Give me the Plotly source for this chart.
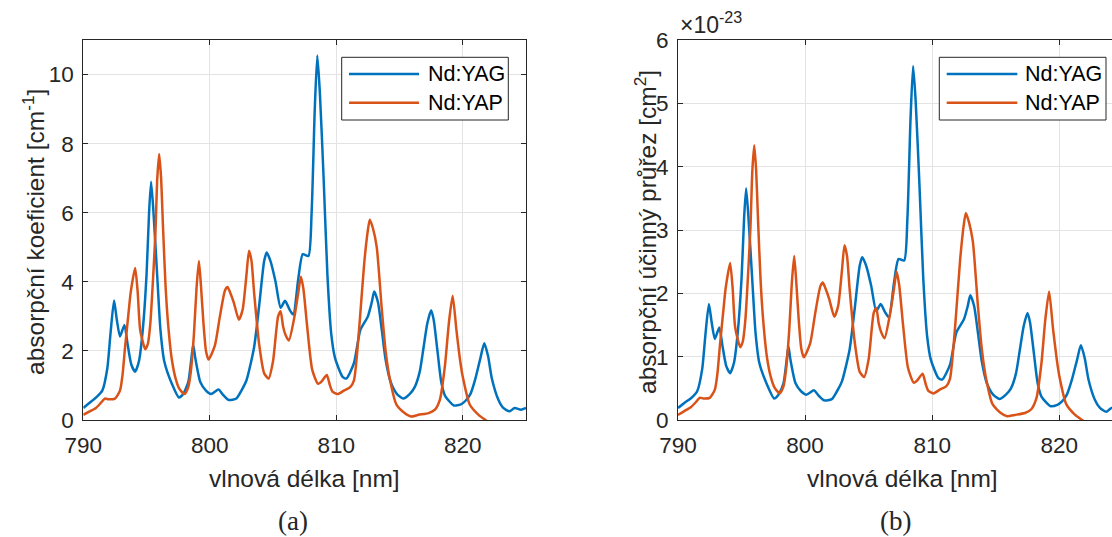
import plotly.graph_objects as go

# ---------------- data ----------------
wl_yag = [790.0, 790.5, 791.0, 791.5, 791.9, 792.15, 792.43, 792.65, 792.9, 793.25,
          793.5, 793.8, 794.1, 794.4, 794.7, 795.0, 795.2, 795.36, 795.55, 795.87,
          796.1, 796.4, 797.0, 797.56, 797.9, 798.3, 798.55, 798.69, 798.85, 799.25,
          799.7, 800.1, 800.7, 801.0, 801.5, 802.1, 802.5, 802.9, 803.5, 803.9,
          804.3, 804.5, 804.8, 805.2, 805.6, 805.95, 806.3, 806.6, 807.0, 807.35,
          807.8, 808.05, 808.3, 808.5, 808.7, 809.0, 809.3, 809.6, 809.9, 810.5,
          810.8, 811.4, 811.9, 812.5, 812.8, 813.0, 813.3, 813.6, 813.9, 814.3,
          814.8, 815.3, 815.8, 816.2, 816.6, 816.9, 817.2, 817.5, 817.7, 818.0,
          818.3, 818.6, 819.3, 819.85, 820.2, 820.6, 821.0, 821.4, 821.7, 822.0,
          822.3, 822.8, 823.2, 823.7, 824.1, 824.6, 825.0]
alpha_yag = [0.35, 0.5, 0.65, 0.85, 1.5, 2.5, 3.46, 2.9, 2.42, 2.75,
             2.2, 1.6, 1.4, 1.7, 2.6, 4.2, 6.0, 6.9, 6.0, 4.0,
             2.6, 1.7, 1.05, 0.65, 0.75, 1.1, 1.8, 2.18, 1.8, 1.1,
             0.85, 0.75, 0.88, 0.75, 0.58, 0.62, 0.85, 1.15, 2.1, 3.3,
             4.6, 4.85, 4.6, 4.0, 3.25, 3.45, 3.2, 3.05, 4.1, 4.8,
             4.75, 6.0, 9.0, 10.55, 9.5, 7.0, 4.2, 2.5, 1.8, 1.25,
             1.2, 1.65, 2.6, 3.0, 3.4, 3.72, 3.4, 2.6, 1.75, 1.1,
             0.75, 0.62, 0.75, 0.95, 1.4, 2.1, 2.8, 3.18, 2.9, 2.0,
             1.1, 0.7, 0.42, 0.45, 0.55, 0.75, 1.2, 1.8, 2.22, 1.85,
             1.2, 0.6, 0.35, 0.25, 0.35, 0.3, 0.35]
sigma_yag = [0.19, 0.27, 0.34, 0.45, 0.80, 1.33, 1.83, 1.54, 1.28, 1.46,
             1.17, 0.85, 0.74, 0.90, 1.38, 2.23, 3.18, 3.66, 3.18, 2.12,
             1.38, 0.90, 0.56, 0.34, 0.40, 0.58, 0.95, 1.16, 0.95, 0.58,
             0.45, 0.40, 0.47, 0.40, 0.31, 0.33, 0.45, 0.61, 1.11, 1.75,
             2.44, 2.57, 2.44, 2.12, 1.72, 1.83, 1.70, 1.62, 2.17, 2.54,
             2.52, 3.18, 4.77, 5.59, 5.04, 3.71, 2.23, 1.33, 0.95, 0.66,
             0.64, 0.87, 1.38, 1.59, 1.80, 1.97, 1.80, 1.38, 0.93, 0.58,
             0.40, 0.33, 0.40, 0.50, 0.74, 1.11, 1.48, 1.69, 1.54, 1.06,
             0.58, 0.37, 0.22, 0.24, 0.29, 0.40, 0.64, 0.95, 1.18, 0.98,
             0.64, 0.32, 0.19, 0.13, 0.19, 0.16, 0.19]

wl_yap = [790.0, 790.5, 791.0, 791.4, 791.7, 792.0, 792.5, 792.9, 793.1, 793.3,
          793.55, 793.75, 794.1, 794.3, 794.5, 794.9, 795.1, 795.3, 795.5, 795.7,
          795.85, 796.0, 796.15, 796.3, 796.5, 796.7, 797.0, 797.3, 797.6, 798.0,
          798.3, 798.5, 798.75, 798.95, 799.14, 799.3, 799.5, 799.7, 799.9, 800.4,
          800.8, 801.2, 801.4, 801.6, 801.9, 802.3, 802.6, 802.9, 803.1, 803.3,
          803.5, 803.9, 804.3, 804.65, 805.0, 805.4, 805.6, 805.8, 806.0, 806.25,
          806.7, 807.0, 807.2, 807.4, 807.7, 808.1, 808.55, 808.8, 809.25, 809.5,
          809.7, 810.1, 810.6, 811.1, 811.4, 811.8, 812.2, 812.5, 812.65, 812.9,
          813.2, 813.6, 813.9, 814.2, 814.75, 815.4, 815.9, 816.5, 817.3, 817.8,
          818.2, 818.6, 818.9, 819.2, 819.5, 819.8, 820.0, 820.55, 821.25, 821.8,
          822.0]
alpha_yap = [0.15, 0.25, 0.35, 0.5, 0.62, 0.6, 0.62, 0.85, 1.3, 2.1,
             3.0, 3.7, 4.4, 3.7, 2.6, 2.05, 2.2, 2.8, 4.0, 5.4,
             7.0, 7.7, 7.0, 5.6, 3.9, 2.8, 1.75, 1.2, 0.9, 0.75,
             0.95, 1.4, 2.5, 3.8, 4.6, 3.9, 2.8, 2.0, 1.75, 2.15,
             3.0, 3.75, 3.85, 3.7, 3.4, 2.9, 3.2, 4.2, 4.9, 4.6,
             3.7, 2.2, 1.35, 1.2, 1.7, 3.0, 3.15, 2.7, 2.45, 2.3,
             3.0, 3.7, 4.15, 3.8, 2.7, 1.45, 1.05, 1.1, 1.3, 1.0,
             0.82, 0.75, 0.85, 0.95, 1.15, 2.6, 4.5, 5.5, 5.8, 5.55,
             5.0, 3.2, 2.0, 1.25, 0.45, 0.2, 0.1, 0.15, 0.2, 0.3,
             0.6, 1.6, 2.8, 3.6, 2.6, 1.7, 1.25, 0.45, 0.15, 0.0,
             -0.05]
sigma_yap = [0.08, 0.14, 0.20, 0.28, 0.35, 0.34, 0.35, 0.48, 0.73, 1.18,
             1.69, 2.08, 2.48, 2.08, 1.46, 1.15, 1.24, 1.58, 2.25, 3.04,
             3.94, 4.34, 3.94, 3.15, 2.20, 1.58, 0.99, 0.68, 0.51, 0.42,
             0.53, 0.79, 1.41, 2.14, 2.59, 2.20, 1.58, 1.13, 0.99, 1.21,
             1.69, 2.11, 2.17, 2.08, 1.91, 1.63, 1.80, 2.36, 2.76, 2.59,
             2.08, 1.24, 0.76, 0.68, 0.96, 1.69, 1.77, 1.52, 1.38, 1.29,
             1.69, 2.08, 2.34, 2.14, 1.52, 0.82, 0.59, 0.62, 0.73, 0.56,
             0.46, 0.42, 0.48, 0.53, 0.65, 1.46, 2.53, 3.10, 3.27, 3.12,
             2.82, 1.80, 1.13, 0.70, 0.25, 0.11, 0.06, 0.08, 0.11, 0.17,
             0.34, 0.90, 1.58, 2.03, 1.46, 0.96, 0.70, 0.25, 0.08, 0.0,
             -0.03]

x_ticks = [790, 800, 810, 820]
y_ticks_a = [0, 2, 4, 6, 8, 10]
y_ticks_b = [0, 1, 2, 3, 4, 5, 6]
series_names = ["Nd:YAG", "Nd:YAP"]
colors = ["#0072BD", "#D95319"]

# ---------------- layout helpers ----------------
W, H = 1112, 537
def px(x):
    return x / W
def py(y):
    return 1 - y / H

FONT = "Liberation Sans"
AX = "#262626"
GRID = "#e3e3e3"
LINE = dict(width=2.5, shape="spline", smoothing=0.6)

fig = go.Figure()
fig.add_trace(go.Scatter(x=wl_yag, y=alpha_yag, mode="lines", line=dict(color=colors[0], **LINE),
                         name=series_names[0], xaxis="x", yaxis="y", showlegend=False))
fig.add_trace(go.Scatter(x=wl_yap, y=alpha_yap, mode="lines", line=dict(color=colors[1], **LINE),
                         name=series_names[1], xaxis="x", yaxis="y", showlegend=False))
fig.add_trace(go.Scatter(x=wl_yag, y=sigma_yag, mode="lines", line=dict(color=colors[0], **LINE),
                         name=series_names[0], xaxis="x2", yaxis="y2", showlegend=False))
fig.add_trace(go.Scatter(x=wl_yap, y=sigma_yap, mode="lines", line=dict(color=colors[1], **LINE),
                         name=series_names[1], xaxis="x2", yaxis="y2", showlegend=False))

common = dict(showline=True, linecolor=AX, linewidth=1, ticks="inside", ticklen=5, tickcolor=AX,
              showgrid=True, gridcolor=GRID, gridwidth=1, zeroline=False, automargin=False,
              tickfont=dict(family=FONT, size=22.5, color=AX))

fig.update_layout(
    width=W, height=H, margin=dict(l=0, r=0, t=0, b=0, autoexpand=False),
    paper_bgcolor="white", plot_bgcolor="white",
    xaxis=dict(domain=[px(83.3), px(526)], range=[790, 825], tickvals=x_ticks, mirror="ticks",
               anchor="y", ticklabelstandoff=5, **common),
    yaxis=dict(domain=[py(420), py(40)], range=[0, 11], tickvals=y_ticks_a, mirror="ticks",
               anchor="x", ticklabelstandoff=4, **common),
    xaxis2=dict(domain=[px(678), 1.0], range=[790, 824.15], tickvals=x_ticks, mirror="ticks",
                anchor="y2", ticklabelstandoff=5, **common),
    yaxis2=dict(domain=[py(420), py(40)], range=[0, 6], tickvals=y_ticks_b, mirror=False,
                anchor="x2", ticklabelstandoff=4, **common),
)

ann = []
tf = dict(family=FONT, size=24.5, color=AX)
ann.append(dict(text="vlnová délka [nm]", x=px(304.5), y=py(478), xref="paper", yref="paper",
                xanchor="center", yanchor="middle", showarrow=False, font=tf))
ann.append(dict(text="vlnová délka [nm]", x=px(902), y=py(478), xref="paper", yref="paper",
                xanchor="center", yanchor="middle", showarrow=False, font=tf))
ann.append(dict(text="absorpční koeficient [cm<sup>-1</sup>]", x=px(33), y=py(232), xref="paper",
                yref="paper", xanchor="center", yanchor="middle", textangle=-90, showarrow=False, font=tf))
ann.append(dict(text="absorpční účinný průřez [cm<sup>2</sup>]", x=px(645), y=py(232), xref="paper",
                yref="paper", xanchor="center", yanchor="middle", textangle=-90, showarrow=False, font=tf))
ann.append(dict(text="×10<sup>-23</sup>", x=px(678), y=py(40), xref="paper", yref="paper",
                xanchor="left", yanchor="bottom", showarrow=False, font=dict(family=FONT, size=23, color=AX)))
sf = dict(family="Liberation Serif", size=27, color=AX)
ann.append(dict(text="(a)", x=px(293), y=py(521), xref="paper", yref="paper",
                xanchor="center", yanchor="middle", showarrow=False, font=sf))
ann.append(dict(text="(b)", x=px(895), y=py(521), xref="paper", yref="paper",
                xanchor="center", yanchor="middle", showarrow=False, font=sf))

shapes = []
legend_boxes = [(341.7, 508.3, 349, 419, 425.7), (939.3, 1106, 946.7, 1017.3, 1023)]
for (bx0, bx1, lx0, lx1, tx) in legend_boxes:
    shapes.append(dict(type="rect", xref="paper", yref="paper", x0=px(bx0), x1=px(bx1),
                       y0=py(120), y1=py(57.3), line=dict(color=AX, width=1), fillcolor="white",
                       layer="above"))
    for i, yy in enumerate([74, 102.7]):
        shapes.append(dict(type="line", xref="paper", yref="paper", x0=px(lx0), x1=px(lx1),
                           y0=py(yy), y1=py(yy), line=dict(color=colors[i], width=2.5), layer="above"))
        ann.append(dict(text=series_names[i], x=px(tx), y=py(yy), xref="paper", yref="paper",
                        xanchor="left", yanchor="middle", showarrow=False,
                        font=dict(family=FONT, size=21.5, color="black")))

fig.update_layout(annotations=ann, shapes=shapes)
fig.write_html("out.html")
